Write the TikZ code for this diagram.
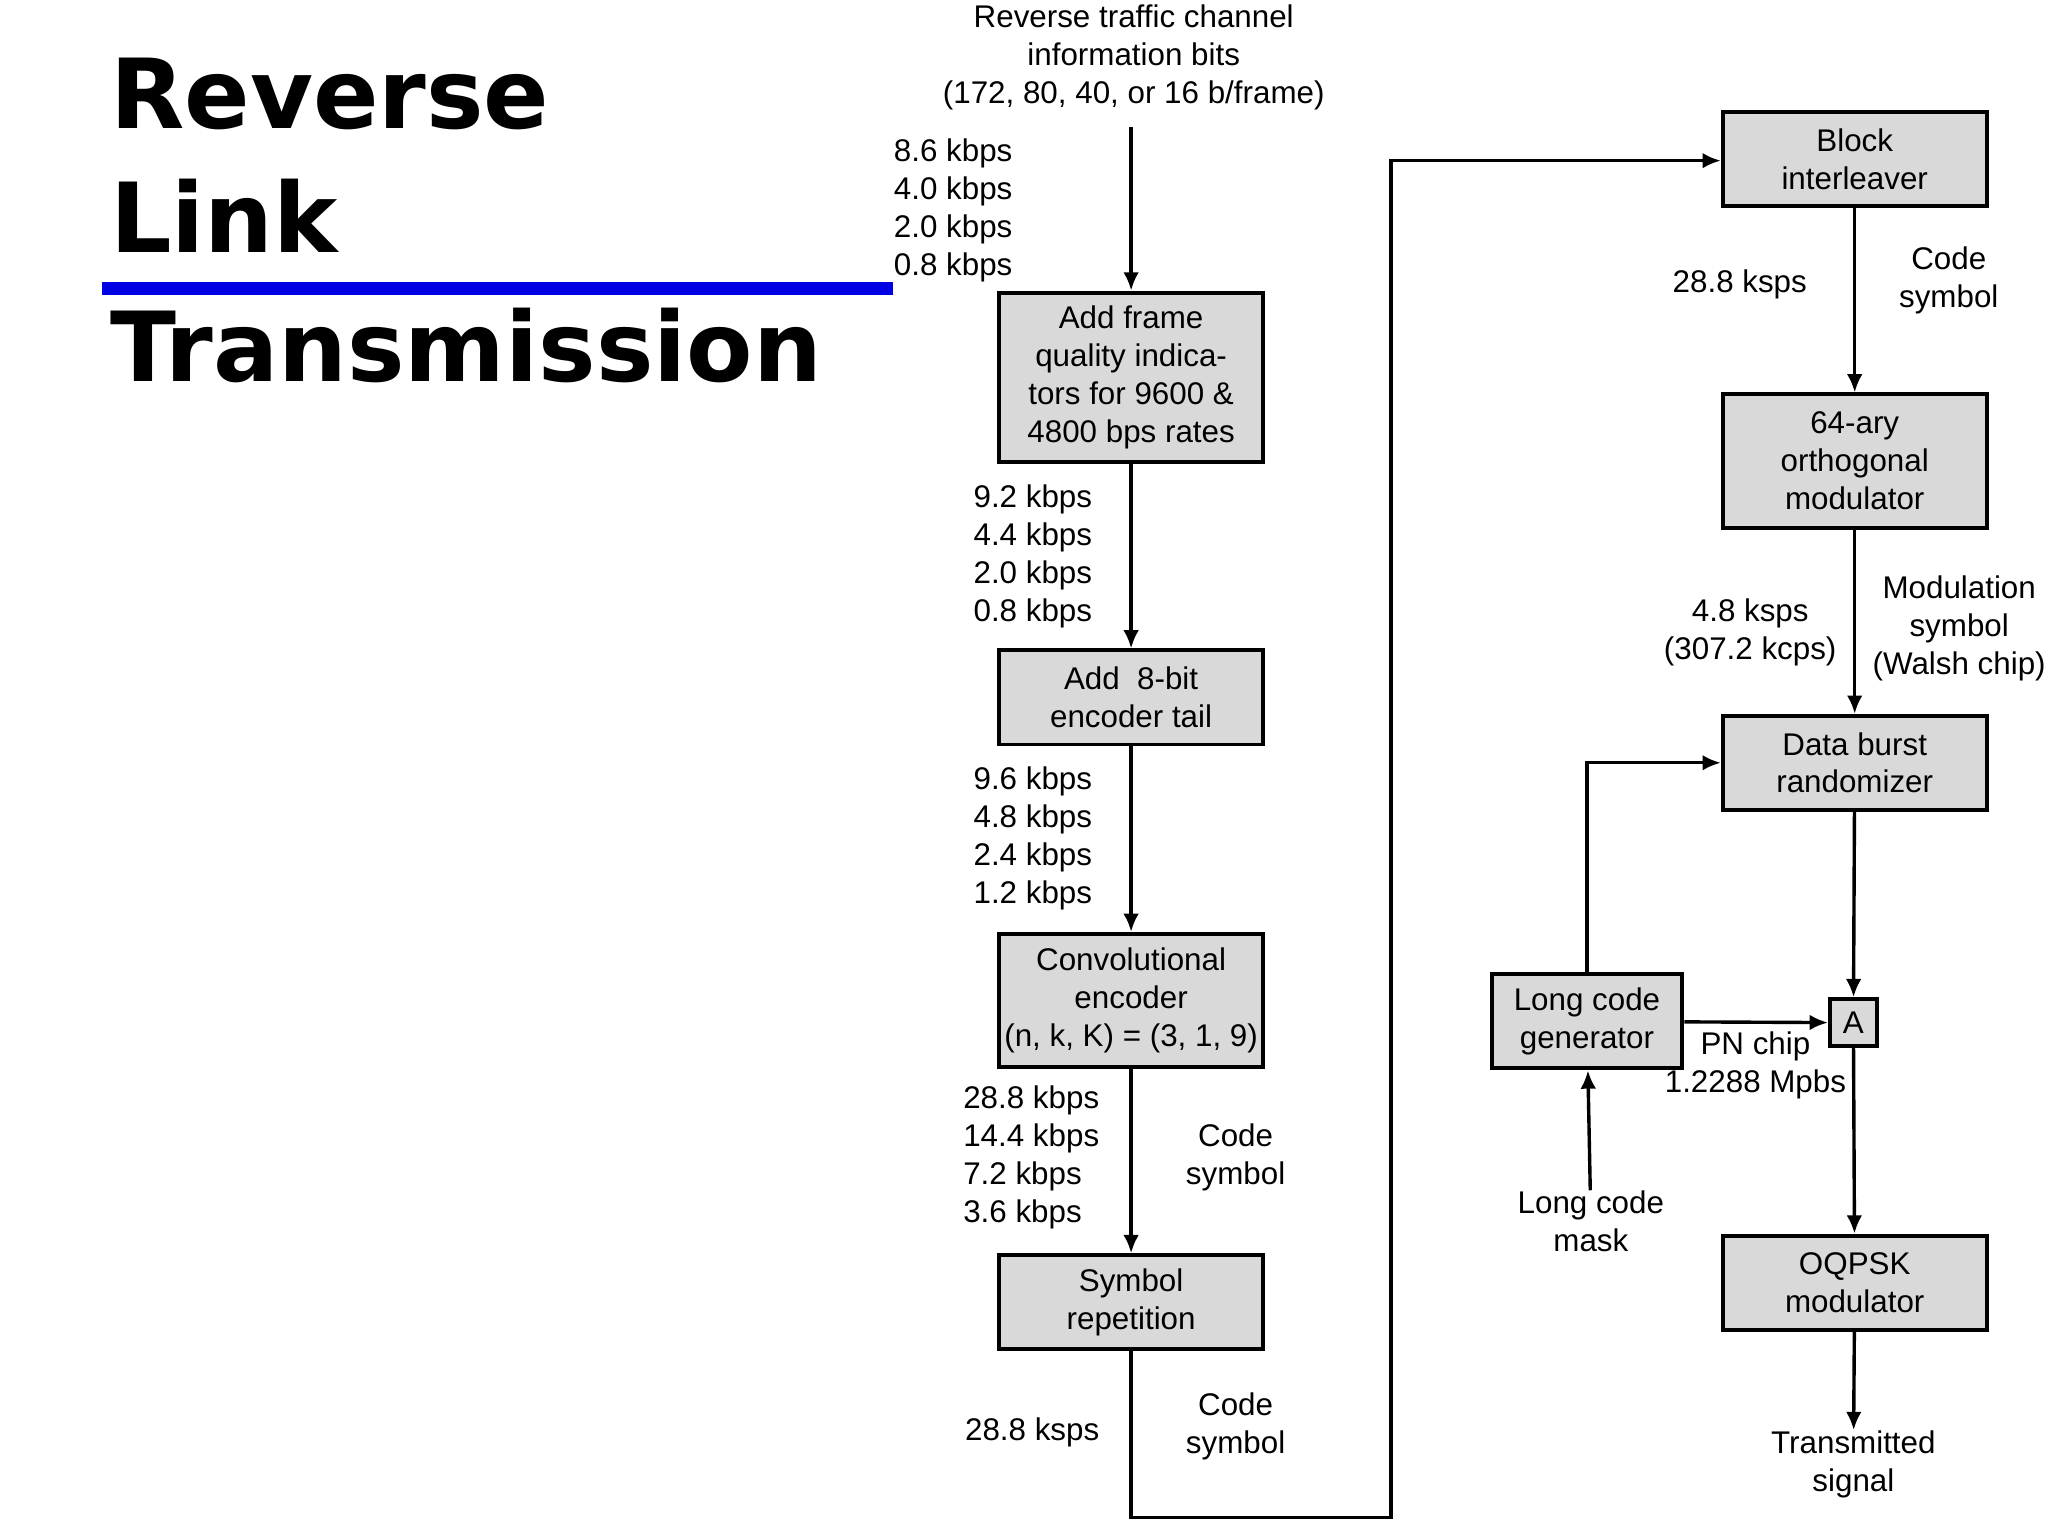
\documentclass[tikz,border=0pt]{standalone}
\usepackage{fontspec}
\setmainfont{Liberation Sans}
\newfontfamily\titlefont{DejaVu Sans}
\usetikzlibrary{arrows.meta,positioning}

\tikzset{
  blk/.style={draw,line width=1.5pt,fill=black!15,minimum width=101pt,align=center,inner sep=0pt},
  lbl/.style={align=left,inner sep=0pt},
  lblc/.style={align=center,inner sep=0pt},
  wire/.style={line width=1.3pt},
  flow/.style={wire,-{Latex[length=7pt,width=6pt]}},
}

\begin{document}
\begin{tikzpicture}[
  x=0.5pt, y=-0.5pt,
  every node/.style={font=\fontsize{12}{14.5}\selectfont},
  ]
  \useasboundingbox (0,0) rectangle (1568,1176);

  % title
  \node[lbl,anchor=north west,font=\titlefont\bfseries\fontsize{37}{47.5}\selectfont] (title) at (84,44)
    {Reverse\\Link\\[2pt]Transmission};
  \draw[line width=5pt,blue!90!black] (78,221) coordinate (bls) -- (684,221) coordinate (ble);

  % left column
  \node[lblc] (src) at (868,44) {Reverse traffic channel\\information bits\\(172, 80, 40, or 16 b/frame)};
  \node[blk,minimum height=65pt] (qual) at (866,289) {Add frame\\quality indica-\\tors for 9600 \&\\4800 bps rates};
  \node[blk,minimum height=36pt] (tail) at (866,534) {Add\ \ 8-bit\\encoder tail};
  \node[blk,minimum height=51pt] (conv) at (866,766) {Convolutional\\encoder\\(n, k, K) = (3, 1, 9)};
  \node[blk,minimum height=36pt] (rep) at (866,997) {Symbol\\repetition};

  \node[lbl,anchor=west] (r1) at (684,161) {8.6 kbps\\4.0 kbps\\2.0 kbps\\0.8 kbps};
  \node[lbl,anchor=west] (r2) at (745,426) {9.2 kbps\\4.4 kbps\\2.0 kbps\\0.8 kbps};
  \node[lbl,anchor=west] (r3) at (745,642) {9.6 kbps\\4.8 kbps\\2.4 kbps\\1.2 kbps};
  \node[lbl,anchor=east] (r4) at (842,886) {28.8 kbps\\14.4 kbps\\7.2 kbps\\3.6 kbps};
  \node[lblc] (cs1) at (946,886) {Code\\symbol};
  \node[lbl,anchor=east] (r5) at (842,1097) {28.8 ksps};
  \node[lblc] (cs2) at (946,1092) {Code\\symbol};

  % right column
  \node[blk,minimum height=36pt] (intl) at (1420,122) {Block\\interleaver};
  \node[blk,minimum height=51pt] (walsh) at (1420,353) {64-ary\\orthogonal\\modulator};
  \node[blk,minimum height=36pt] (burst) at (1420,584) {Data burst\\randomizer};
  \node[draw,line width=1.5pt,fill=black!15,minimum size=18pt,inner sep=0pt] (xa) at (1419,783) {A};
  \node[blk,minimum height=36pt] (oqpsk) at (1420,982) {OQPSK\\modulator};
  \node[blk,minimum width=73pt,minimum height=36pt] (lcg) at (1215,782) {Long code\\generator};

  \node[lblc] (r6) at (1332,218) {28.8 ksps};
  \node[lblc] (cs3) at (1492,215) {Code\\symbol};
  \node[lblc] (r7) at (1340,484) {4.8 ksps\\(307.2 kcps)};
  \node[lblc] (ms) at (1500,481) {Modulation\\symbol\\(Walsh chip)};
  \node[lblc] (pn) at (1344,816) {PN chip\\1.2288 Mpbs};
  \node[lblc] (mask) at (1218,935) {Long code\\mask};
  \node[lblc] (out) at (1419,1121) {Transmitted\\signal};

  \coordinate (srcb) at (866,97);
  \draw[flow] (srcb) -- (qual);
  \draw[flow] (qual) -- (tail);
  \draw[flow] (tail) -- (conv);
  \draw[flow] (conv) -- (rep);
  \coordinate (c1) at (866,1162);
  \coordinate (c2) at (1065,1162);
  \coordinate (c3) at (1065,123);
  \draw[flow] (rep.south) -- (c1) -- (c2) -- (c3) -- (c3 -| intl.west);

  \draw[flow] (intl) -- (walsh);
  \draw[flow] (walsh) -- (burst);
  \draw[flow] (burst) -- (xa);
  \draw[flow] (xa) -- (oqpsk);
  \draw[flow] (oqpsk) -- (out);
  \draw[flow] (lcg) -- (xa);
  \draw[flow] (lcg.north) |- (burst.west);
  \draw[flow] (mask) -- (lcg);
\end{tikzpicture}
\end{document}
